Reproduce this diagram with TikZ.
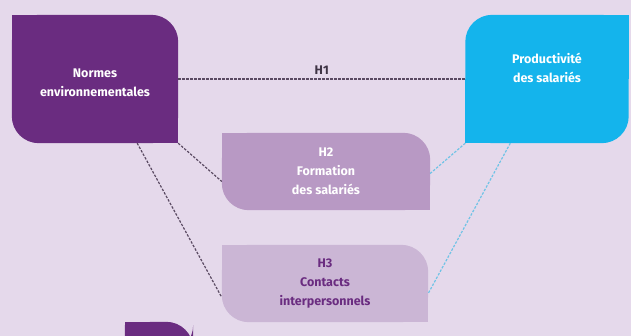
\documentclass[tikz,border=0pt]{standalone}
\usepackage{fontspec}
\setmainfont{Fira Sans}
\usepackage{tikz}
\usetikzlibrary{positioning}
\definecolor{fond}{HTML}{E5D9EB}
\definecolor{violet}{HTML}{6A2C80}
\definecolor{cyanbox}{HTML}{14B4EC}
\definecolor{mauve}{HTML}{B899C4}
\definecolor{lilas}{HTML}{CBB6D5}
\definecolor{trait}{HTML}{5A4A62}
\definecolor{traitbleu}{HTML}{6FC3E6}
\tikzset{
  box/.style={align=center, inner sep=0, font=\fontsize{12.5}{19}\selectfont\bfseries},
  hyp/.style={dashed, dash pattern=on 2.5pt off 1.5pt, line width=1.2pt, trait},
  hypbleu/.style={dashed, dash pattern=on 2.5pt off 1.5pt, line width=1.2pt, traitbleu}
}
% leaf shape: two rounded corners, two sharp ones (#3 and #4 name the sharp corners)
\newcommand{\leaf}[4]{%
  \fill[#2, rounded corners=27pt] (#1.south west) rectangle (#1.north east);
  \fill[#2] (#1.#3) rectangle (#1.center);
  \fill[#2] (#1.#4) rectangle (#1.center);
}
\begin{document}
\begin{tikzpicture}[x=1pt, y=-1pt]
\fill[fond] (0,0) rectangle (631,336);
\useasboundingbox (0,0) rectangle (631,336);

\node[box, minimum width=166pt, minimum height=128pt] (normes) at (95,79) {};
\node[box, minimum width=163pt, minimum height=128pt] (prod) at (547,79) {};
\node[box, minimum width=208pt, minimum height=77pt] (h2) at (326,171.5) {};
\node[box, minimum width=206pt, minimum height=77pt] (h3) at (325,283.5) {};
\node[box, minimum width=68pt, minimum height=30pt] (suite) at (159,337) {};

\leaf{normes}{violet}{north west}{south east}
\leaf{prod}{cyanbox}{north east}{south west}
\leaf{h2}{mauve}{north west}{south east}
\leaf{h3}{lilas}{north west}{south east}
\leaf{suite}{violet}{north west}{south east}

\node[box, text=white] at ([yshift=-4pt]normes) {Normes\\environnementales};
\node[box, text=white] at ([yshift=11pt]prod) {Productivité\\des salariés};
\node[box, text=white] at (h2) {H2\\Formation\\des salariés};
\node[box, text=violet] at (h3) {H3\\Contacts\\interpersonnels};

\draw[hyp] (normes.east) -- node[above=4pt, box, text=trait!70!black]{H1} (prod.west);
\draw[hyp] (normes.south east) -- ([yshift=-10pt]h2.west);
\draw[hyp] ([xshift=-41pt]normes.south east) -- ([yshift=-14pt]h3.west);
\draw[hypbleu] (prod.south west) -- ([yshift=-2pt]h2.east);
\draw[hypbleu] ([xshift=45pt]prod.south west) -- ([yshift=-10pt]h3.east);
\end{tikzpicture}
\end{document}
